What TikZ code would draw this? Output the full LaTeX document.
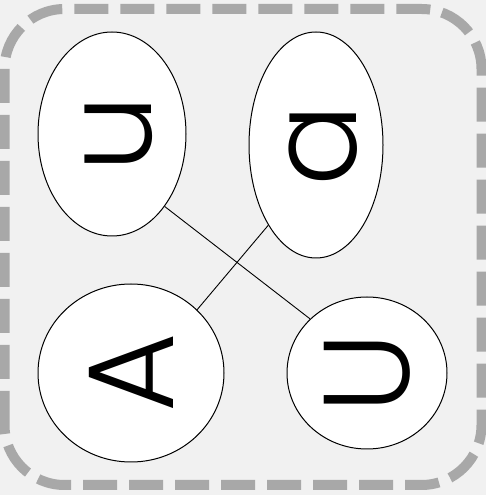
\documentclass[tikz,border=0pt]{standalone}
\usepackage{fontspec}
\setmainfont{Poppins}[UprightFont={* Light}]
\usepackage{graphicx}
\usepackage{xcolor}
\usepackage{tikz}
\usetikzlibrary{positioning, shapes.geometric}
\definecolor{framegray}{HTML}{A8A8A8}
\definecolor{papergray}{HTML}{F1F1F1}
\tikzset{
  lettercell/.style={
    ellipse,
    draw=black,
    fill=white,
    line width=1pt,
    inner sep=0pt,
    font=\fontsize{122}{122}\selectfont
  },
  lettertie/.style={
    line width=0.9pt
  },
  framedash/.style={
    draw=framegray,
    line width=10pt,
    dash pattern=on 34pt off 12pt,
    rounded corners=60pt
  }
}

\begin{document}
\begin{tikzpicture}[x=1pt, y=1pt]
  \fill[papergray] (0,0) rectangle (486,495);
  \useasboundingbox (0,0) rectangle (486,495);
  \draw[framedash] (4.5,10) rectangle (481.5,486);

  \node[lettercell, minimum width=148pt, minimum height=204pt] (lu) at (112,361)
    {\hspace{14pt}\rotatebox{90}{u}};
  \node[lettercell, minimum width=134pt, minimum height=226pt] (la) at (316,350)
    {\hspace{14pt}\rotatebox{90}{a}};
  \node[lettercell, minimum width=186pt, minimum height=178pt] (cA) at (131,122)
    {\rotatebox{90}{A}\hspace{6pt}};
  \node[lettercell, minimum width=160pt, minimum height=152pt] (cU) at (367,122)
    {\rotatebox{90}{U}};

  \draw[lettertie] (lu.south east) -- (cU.north west);
  \draw[lettertie] (la.south west) -- (cA.north east);
\end{tikzpicture}
\end{document}
